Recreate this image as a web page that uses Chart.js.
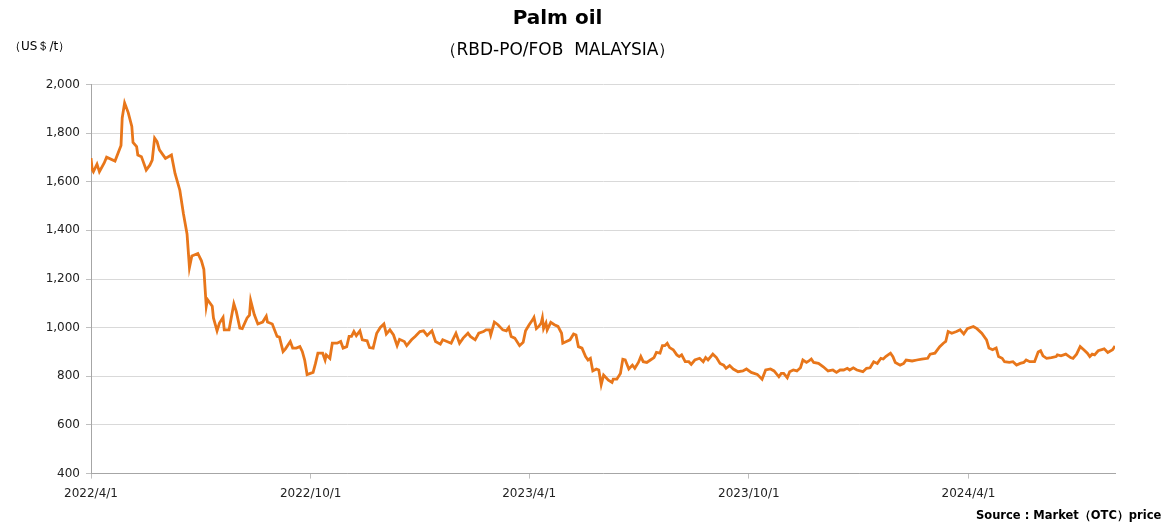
<!DOCTYPE html>
<html>
<head>
<meta charset="utf-8">
<script src="https://cdn.jsdelivr.net/npm/chart.js@4.4.1/dist/chart.umd.min.js"></script>
<style>
  html, body { margin: 0; padding: 0; background: #fff; }
  #wrap { width: 1162px; height: 527px; position: relative; }
</style>
</head>
<body>
<div id="wrap"><canvas id="myChart" width="1162" height="527"></canvas></div>
<script>
'use strict';
// days counted from 2022/4/1
let priceDays=[0,1,2,5,7,11,13,20,25,26,28,31,34,35,38,39,42,46,49,51,53,55,57,62,67,70,74,77,80,
82,84,89,92,94,96,97,101,102,105,107,110,111,115,119,121,124,126,130,132,133,136,139,143,146,147,151,
155,157,160,162,166,168,171,174,176,178,180,185,187,189,193,195,196,199,201,205,208,210,213,215,217,
219,221,224,226,230,232,235,238,241,244,246,249,252,255,257,261,263,267,270,274,277,280,284,287,291,
293,298,300,304,307,310,314,316,320,323,327,329,332,333,336,339,343,346,348,350,353,357,360,362,365,
368,369,371,373,375,376,377,379,380,383,386,389,392,393,396,399,402,404,406,409,412,414,416,418,421,
423,425,427,431,434,435,438,441,443,445,448,451,453,456,458,460,463,466,469,471,474,476,478,480,482,
485,488,490,492,495,498,500,503,507,510,512,514,518,521,524,527,529,532,535,539,543,546,550,555,559,
562,566,569,573,575,577,580,582,585,588,591,593,596,598,600,602,606,610,614,618,621,624,627,630,632,
635,638,643,646,649,652,655,658,660,662,666,668,670,674,677,679,684,688,692,697,699,703,707,710,712,
714,717,721,724,727,730,735,738,742,746,748,751,754,756,759,761,765,768,771,774,777,779,782,786,789,
791,793,796,800,804,805,808,812,816,818,821,824,827,830,832,834,836,839,844,847,851,853];
// US$/t
let prices=[1697,1650,1641,1672,1641,1677,1701,1685,1749,1862,1924,1884,1827,1761,1744,1710,1703,1648,1668,1689,1779,1765,1731,1696,1710,1634,1565,1468,1385,
1247,1295,1305,1275,1240,1088,1116,1088,1040,987,1019,1042,991,991,1098,1067,998,996,1040,1051,1112,1054,1015,1023,1047,1023,1015,
964,961,902,913,943,916,916,922,902,867,807,816,853,895,895,867,888,874,936,936,943,916,922,964,964,
984,967,987,950,946,918,916,977,1001,1015,974,991,970,926,952,943,926,950,964,984,987,968,987,943,932,
950,940,936,977,936,957,977,964,950,977,984,991,991,970,1023,1012,991,987,1001,964,957,926,940,987,1012,
1033,1042,996,1005,1019,1040,996,1019,991,1022,1012,1005,977,936,943,950,974,970,922,916,881,867,874,822,830,
826,766,805,784,775,788,788,812,870,867,830,846,833,857,881,860,857,867,877,898,895,926,926,936,918,
909,888,881,888,860,860,849,867,874,860,877,867,891,877,853,846,833,844,830,819,822,830,816,808,788,
826,830,822,798,812,812,794,819,826,822,835,867,857,863,871,857,853,839,822,826,816,826,826,833,826,
835,826,819,833,835,860,853,874,871,881,895,881,857,846,853,867,863,867,871,874,891,895,922,936,943,
984,977,984,991,974,996,1005,996,977,950,916,909,916,881,874,860,857,860,846,853,857,867,860,860,900,
905,884,874,877,881,888,884,891,877,874,891,922,909,895,881,891,888,905,913,898,909,925];
let tickLabels=['2022/4/1','2022/10/1','2023/4/1','2023/10/1','2024/4/1'];
let yTicks=[400,600,800,1000,1200,1400,1600,1800,2000];
let lastDay=853;

function dayOf(label){
  let p=label.split('/');
  return (Date.UTC(+p[0],+p[1]-1,+p[2])-Date.UTC(2022,3,1))/864e5;
}
let tickDays=tickLabels.map(dayOf);

let points=[];
for (let i = 0; i < priceDays.length; i++) {
  points.push({x:priceDays[i],y:prices[i]});
}

// unit label and source note
let notesPlugin={
  id:'notes',
  afterDraw(chart){
    let ctx=chart.ctx;
    ctx.save();
    ctx.fillStyle='#000';
    ctx.textBaseline='middle';
    ctx.textAlign='left';
    ctx.font='12px "DejaVu Sans"';
    ctx.fillText('（US＄/t）',9,47);
    ctx.font='bold 11.5px "DejaVu Sans"';
    ctx.fillText('Source : Market（OTC）price',976,516);
    ctx.restore();
  }
};

let ctx = document.getElementById('myChart').getContext('2d');
let myChart = new Chart(ctx, {
  type: 'line',
  data: {
    datasets: [{
      label: 'Palm oil',
      data: points,
      borderColor: '#e8761a',
      borderWidth: 2.8,
      pointRadius: 0,
      tension: 0,
      fill: false
    }]
  },
  options: {
    responsive: false,
    animation: false,
    parsing: false,
    layout: { padding: { left: 0, right: 47, top: 0, bottom: 18 } },
    plugins: {
      legend: { display: false },
      tooltip: { enabled: false },
      title: {
        display: true,
        text: 'Palm oil',
        color: '#000',
        font: { family: 'DejaVu Sans', size: 20, weight: 'bold' },
        padding: { top: 7, bottom: 4 }
      },
      subtitle: {
        display: true,
        text: '（RBD-PO/FOB  MALAYSIA）',
        color: '#000',
        font: { family: 'DejaVu Sans', size: 17 },
        padding: { top: 5, bottom: 24 }
      }
    },
    scales: {
      x: {
        type: 'linear',
        min: 0,
        max: lastDay,
        afterBuildTicks(scale){
          scale.ticks=tickDays.map(v=>({value:v}));
        },
        ticks: {
          autoSkip: false,
          maxRotation: 0,
          color: '#222',
          font: { family: 'DejaVu Sans', size: 12 },
          padding: 8,
          callback(value){
            let i=tickDays.indexOf(value);
            return i>=0 ? tickLabels[i] : '';
          }
        },
        grid: { drawOnChartArea: false, drawTicks: true, tickLength: 5, color: '#bfbfbf' },
        border: { color: '#a6a6a6', width: 1 }
      },
      y: {
        min: 400,
        max: 2000,
        afterBuildTicks(scale){
          scale.ticks=yTicks.map(v=>({value:v}));
        },
        afterFit(scale){ scale.width=91; },
        ticks: {
          color: '#222',
          font: { family: 'DejaVu Sans', size: 12 },
          padding: 6,
          callback(value){ return value.toLocaleString('en-US'); }
        },
        grid: { color: '#d9d9d9', lineWidth: 1, tickLength: 5, tickColor: '#bfbfbf' },
        border: { color: '#a6a6a6', width: 1 }
      }
    }
  },
  plugins: [notesPlugin]
});
</script>
</body>
</html>
